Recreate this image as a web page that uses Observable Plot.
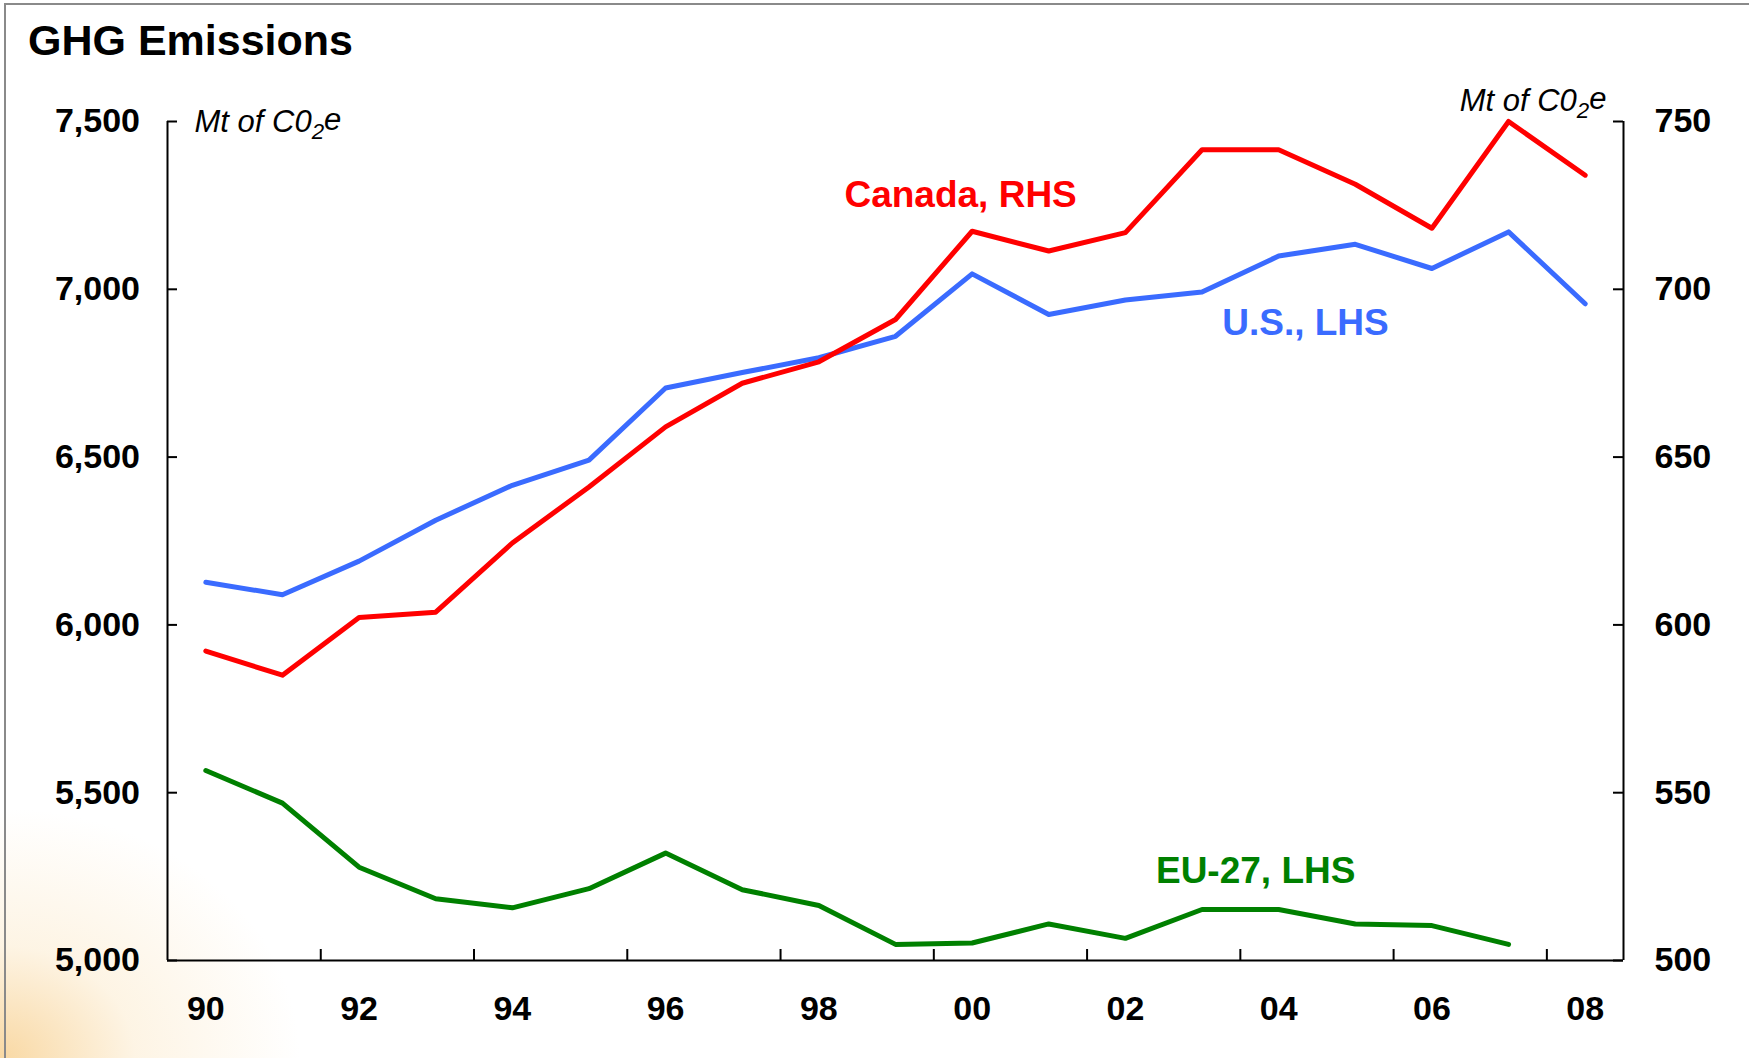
<!DOCTYPE html>
<html>
<head>
<meta charset="utf-8">
<script src="https://cdn.jsdelivr.net/npm/d3@7"></script>
<script src="https://cdn.jsdelivr.net/npm/@observablehq/plot@0.6"></script>
<style>
  html, body { margin: 0; padding: 0; background: #fff; }
  #wrap {
    position: relative; width: 1749px; height: 1058px; overflow: hidden;
    background:
      radial-gradient(ellipse 300px 250px at 0% 100%, rgba(246,200,125,0.70), rgba(251,228,188,0.40) 45%, rgba(255,255,255,0) 100%),
      #fff;
  }
  #frame {
    position: absolute; left: 4px; top: 3px; right: -10px; bottom: -10px;
    border-left: 2px solid #8a8a8a; border-top: 2px solid #8a8a8a;
  }
  #title {
    position: absolute; left: 28px; top: 16px;
    font: bold 43px "Liberation Sans", Arial, sans-serif; color: #000;
  }
  #chart { position: absolute; left: 0; top: 0; }
</style>
</head>
<body>
<div id="wrap">
  <div id="frame"></div>
  <div id="title">GHG Emissions</div>
  <div id="chart"></div>
</div>
<script>
// ---- data ----
const years = [1990,1991,1992,1993,1994,1995,1996,1997,1998,1999,2000,2001,2002,2003,2004,2005,2006,2007,2008];
const usLHS = [6127,6090,6190,6312,6416,6491,6706,6752,6796,6860,7046,6925,6968,6992,7099,7134,7062,7171,6957];
const canadaRHS = [592.2,585.0,602.2,603.8,624.4,641.1,659.0,672.0,678.4,691.0,717.3,711.4,716.9,741.6,741.6,731.3,718.2,750.0,734.0];
const eu27Years = [1990,1991,1992,1993,1994,1995,1996,1997,1998,1999,2000,2001,2002,2003,2004,2005,2006,2007];
const eu27LHS = [5566,5469,5278,5184,5157,5214,5320,5211,5164,5048,5052,5109,5066,5152,5152,5109,5104,5048];

const leftTicks = [5000,5500,6000,6500,7000,7500];
const yearLabels = [1990,1992,1994,1996,1998,2000,2002,2004,2006,2008];
const xDomain = [1989.5, 2008.5];
const yDomain = [5000, 7500];
const unitText = "Mt of C02e";

const labelText = ["Canada, RHS", "U.S., LHS", "EU-27, LHS"];
const labelColor = ["#ff0000", "#3a6bff", "#008000"];
const labelYear = [1999.85, 2004.35, 2003.7];
const labelLHS = [7282, 6900, 5265];

// ---- tables ----
const us = years.map((y, i) => ({year: y, v: usLHS[i]}));
const ca = years.map((y, i) => ({year: y, v: canadaRHS[i]}));
const eu = eu27Years.map((y, i) => ({year: y, v: eu27LHS[i]}));
const labels = labelText.map((t, i) => ({t, c: labelColor[i], x: labelYear[i], y: labelLHS[i]}));
const xTickMarks = yearLabels.slice(1).map(y => y - 0.5);

const font = '"Liberation Sans", Arial, Helvetica, sans-serif';
const W = 1749, H = 1058, mL = 167, mR = 126, mT = 121, mB = 98;
const plotW = W - mL - mR, plotH = H - mT - mB;
const tickLen = 10;

const chart = Plot.plot({
  width: W,
  height: H,
  marginLeft: mL,
  marginRight: mR,
  marginTop: mT,
  marginBottom: mB,
  style: {fontFamily: font, background: "transparent", color: "#000", overflow: "visible"},
  x: {domain: xDomain},
  y: {domain: yDomain},
  marks: [
    // axis labels
    Plot.axisY(leftTicks, {anchor: "left", tickSize: 0, tickPadding: 27.5,
      tickFormat: d3.format(","), fontSize: 34, fontWeight: "bold", label: null}),
    Plot.axisY(leftTicks, {anchor: "right", tickSize: 0, tickPadding: 31,
      tickFormat: d => d3.format(",")(d / 10), fontSize: 34, fontWeight: "bold", label: null}),
    Plot.axisX(yearLabels, {anchor: "bottom", tickSize: 0, tickPadding: 35,
      tickFormat: d => String(d).slice(2), fontSize: 34, fontWeight: "bold", label: null}),
    // inward tick marks
    Plot.tickY(leftTicks, {y: d => d, insetRight: plotW - tickLen, stroke: "#000", strokeWidth: 2}),
    Plot.tickY(leftTicks, {y: d => d, insetLeft: plotW - tickLen, stroke: "#000", strokeWidth: 2}),
    Plot.tickX(xTickMarks, {x: d => d, insetTop: plotH - 11, stroke: "#000", strokeWidth: 2}),
    // axis lines (left, right, bottom)
    Plot.ruleX(xDomain, {stroke: "#000", strokeWidth: 2}),
    Plot.ruleY([yDomain[0]], {stroke: "#000", strokeWidth: 2}),
    // unit labels
    Plot.text([unitText], {frameAnchor: "top-left", text: d => d, dx: 27, dy: 1,
      textAnchor: "start", lineAnchor: "middle", fontSize: 31, fontStyle: "italic", fill: "#000"}),
    Plot.text([unitText], {frameAnchor: "top-right", text: d => d, dx: -17, dy: -20,
      textAnchor: "end", lineAnchor: "middle", fontSize: 31, fontStyle: "italic", fill: "#000"}),
    // series
    Plot.line(us, {x: "year", y: "v", stroke: "#3a6bff", strokeWidth: 5}),
    Plot.line(eu, {x: "year", y: "v", stroke: "#008000", strokeWidth: 5}),
    Plot.line(ca, {x: "year", y: d => d.v * 10, stroke: "#ff0000", strokeWidth: 5}),
    // series labels
    Plot.text(labels, {x: "x", y: "y", text: "t", fill: "c", fontSize: 37, fontWeight: "bold",
      textAnchor: "middle", lineAnchor: "middle"})
  ]
});

document.getElementById("chart").appendChild(chart);

// subscript the "2" in the unit labels
d3.select(chart).selectAll("text").each(function() {
  const el = d3.select(this);
  if (this.textContent === unitText) {
    el.text(null);
    el.append("tspan").text("Mt of C0");
    el.append("tspan").attr("dy", "0.3em").attr("font-size", "0.72em").text("2");
    el.append("tspan").attr("dy", "-0.3em").text("e");
  }
});
</script>
</body>
</html>
